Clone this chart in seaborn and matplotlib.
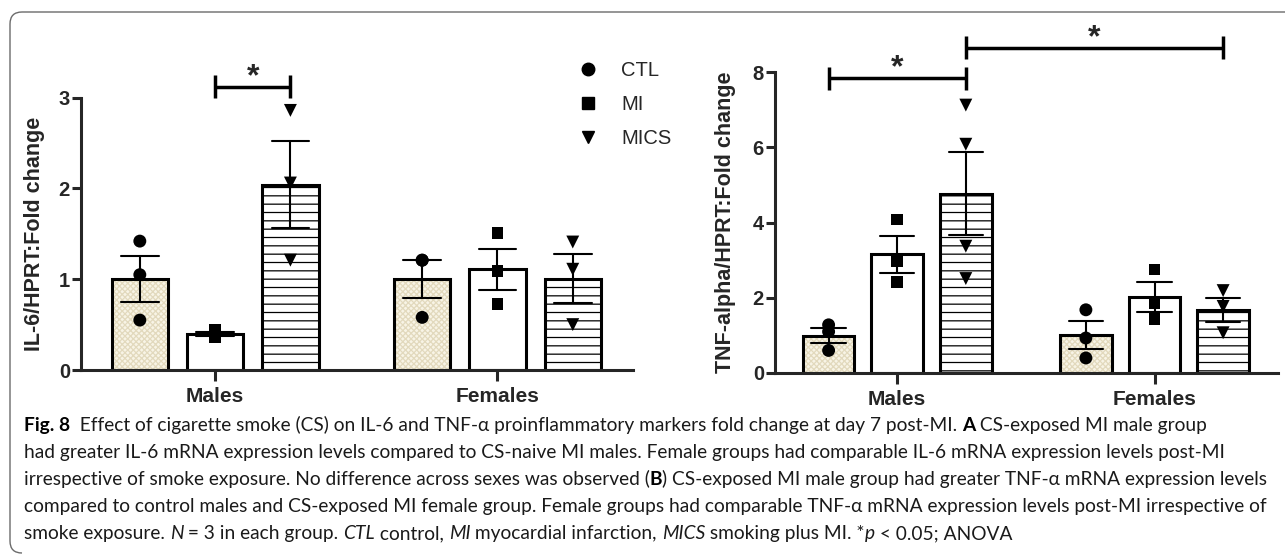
import matplotlib
matplotlib.use("Agg")
import matplotlib.pyplot as plt
import matplotlib.transforms as mtransforms
from matplotlib.lines import Line2D
from matplotlib.patches import Rectangle, PathPatch
from matplotlib.path import Path
import numpy as np
import pandas as pd
import seaborn as sns

# ---------------- data ----------------
sexes = ["Males", "Females"]
groups = ["CTL", "MI", "MICS"]

il6_males_ctl = [1.42, 1.05, 0.55]
il6_males_mi = [0.44, 0.40, 0.36]
il6_males_mics = [2.86, 2.06, 1.21]
il6_females_ctl = [1.21, 1.21, 0.58]
il6_females_mi = [1.51, 1.09, 0.73]
il6_females_mics = [1.41, 1.11, 0.50]

tnf_males_ctl = [1.28, 1.10, 0.60]
tnf_males_mi = [4.08, 2.97, 2.41]
tnf_males_mics = [7.12, 6.08, 3.37, 2.51]
tnf_females_ctl = [1.68, 0.93, 0.40]
tnf_females_mi = [2.75, 1.87, 1.44]
tnf_females_mics = [2.19, 1.77, 1.07]

il6_ylabel = "IL-6/HPRT:Fold change"
tnf_ylabel = "TNF-alpha/HPRT:Fold change"
il6_yticks = [0, 1, 2, 3]
tnf_yticks = [0, 2, 4, 6, 8]

# significance brackets: (from (sex, group), to (sex, group), height)
il6_brackets = [(("Males", "MI"), ("Males", "MICS"), 3.12)]
tnf_brackets = [(("Males", "CTL"), ("Males", "MICS"), 7.84),
                (("Males", "MICS"), ("Females", "MICS"), 8.64)]

caption_lines = [
    [("Fig. 8", "bold"),
     ("  Effect of cigarette smoke (CS) on IL-6 and TNF-\u03b1 proinflammatory markers fold change at day 7 post-MI. ", "normal"),
     ("A", "bold"), (" CS-exposed MI male group", "normal")],
    [("had greater IL-6 mRNA expression levels compared to CS-naive MI males. Female groups had comparable IL-6 mRNA expression levels post-MI", "normal")],
    [("irrespective of smoke exposure. No difference across sexes was observed (", "normal"), ("B", "bold"),
     (") CS-exposed MI male group had greater TNF-\u03b1 mRNA expression levels", "normal")],
    [("compared to control males and CS-exposed MI female group. Female groups had comparable TNF-\u03b1 mRNA expression levels post-MI irrespective of", "normal")],
    [("smoke exposure. ", "normal"), ("N", "italic"), (" = 3 in each group. ", "normal"), ("CTL", "italic"),
     (" control, ", "normal"), ("MI", "italic"), (" myocardial infarction, ", "normal"), ("MICS", "italic"),
     (" smoking plus MI. *", "normal"), ("p", "italic"), (" < 0.05; ANOVA", "normal")],
]


def long_df(d):
    rows = []
    for (sex, grp), vals in d.items():
        for v in vals:
            rows.append({"sex": sex, "group": grp, "value": v})
    return pd.DataFrame(rows)


il6_df = long_df({("Males", "CTL"): il6_males_ctl, ("Males", "MI"): il6_males_mi,
                  ("Males", "MICS"): il6_males_mics, ("Females", "CTL"): il6_females_ctl,
                  ("Females", "MI"): il6_females_mi, ("Females", "MICS"): il6_females_mics})
tnf_df = long_df({("Males", "CTL"): tnf_males_ctl, ("Males", "MI"): tnf_males_mi,
                  ("Males", "MICS"): tnf_males_mics, ("Females", "CTL"): tnf_females_ctl,
                  ("Females", "MI"): tnf_females_mi, ("Females", "MICS"): tnf_females_mics})

# ---------------- style ----------------
sns.set_style("ticks")
plt.rcParams["font.family"] = ["Liberation Sans", "DejaVu Sans"]
plt.rcParams["hatch.linewidth"] = 0.9

W, H = 1285, 554
fig = plt.figure(figsize=(W / 100, H / 100), dpi=100)


def fx(px):
    return px / W


def fy(py):
    return 1 - py / H


SPINE_LW = 2.2
ctl_face = "#f8f4e6"
ctl_hatch = "#e2d9bd"
palette = {"CTL": ctl_face, "MI": "white", "MICS": "white"}
markers = {"CTL": ("o", 9.3), "MI": ("s", 8.5), "MICS": ("v", 9.3)}


def panel(ax, df, yticks, ylabel, brackets, label_x_px):
    sns.barplot(data=df, x="sex", y="value", hue="group", order=sexes, hue_order=groups,
                palette=palette, saturation=1, errorbar="se", capsize=0.4, gap=0.25,
                err_kws={"color": "black", "linewidth": 1.5},
                edgecolor="black", linewidth=SPINE_LW, legend=False, ax=ax)
    # patterns
    for p in ax.containers[0].patches:
        p.set_hatch("xxxxxx")
        p.set_edgecolor(ctl_hatch)
        p.set_linewidth(0)
        ax.add_patch(Rectangle(p.get_xy(), p.get_width(), p.get_height(), facecolor="none",
                               edgecolor="black", linewidth=SPINE_LW, zorder=p.get_zorder() + 0.01))
    for p in ax.containers[2].patches:
        p.set_hatch("--")
    for g in groups:
        m, s = markers[g]
        sns.stripplot(data=df[df["group"] == g], x="sex", y="value", hue="group", order=sexes,
                      hue_order=groups, dodge=True, jitter=False, palette={k: "black" for k in groups},
                      marker=m, size=s, linewidth=0, legend=False, zorder=4, ax=ax)
    ax.set_xlim(-0.475, 1.48)
    ax.set_ylim(yticks[0], yticks[-1])
    ax.set_yticks(yticks)
    ax.set_xlabel("")
    ax.set_ylabel(ylabel, fontsize=15.5, fontweight="bold", va="center")
    ax.yaxis.set_label_coords(fx(label_x_px), 0.5,
                              transform=mtransforms.blended_transform_factory(fig.transFigure, ax.transAxes))
    sns.despine(ax=ax)
    for sp in ("left", "bottom"):
        ax.spines[sp].set_linewidth(SPINE_LW)
    ax.tick_params(axis="y", length=6.5, width=SPINE_LW, pad=1.5, labelsize=14.5)
    ax.tick_params(axis="x", length=8, width=SPINE_LW, pad=4, labelsize=15)
    for t in ax.get_xticklabels() + ax.get_yticklabels():
        t.set_fontweight("bold")

    # brackets
    def center(sex, grp):
        p = ax.containers[groups.index(grp)].patches[sexes.index(sex)]
        return p.get_x() + p.get_width() / 2

    ppu = ax.transData.transform((0, 1))[1] - ax.transData.transform((0, 0))[1]
    cap = 11.5 / ppu
    for a, b, h in brackets:
        x0, x1 = center(*a), center(*b)
        ax.plot([x0, x1], [h, h], color="black", lw=SPINE_LW + 0.3, clip_on=False, solid_capstyle="butt")
        for xx in (x0, x1):
            ax.plot([xx, xx], [h - cap, h + cap], color="black", lw=SPINE_LW + 0.3, clip_on=False,
                    solid_capstyle="butt")
        ax.text((x0 + x1) / 2, h + 1.5 / ppu, "*", ha="center", va="baseline", fontsize=23,
                fontweight="bold", clip_on=False)


ax1 = fig.add_axes([fx(81), fy(370), fx(633 - 81), (370 - 97.7) / H])
ax2 = fig.add_axes([fx(775), fy(373), fx(1278 - 775), (373 - 72) / H])

panel(ax1, il6_df, il6_yticks, il6_ylabel, il6_brackets, 35)
panel(ax2, tnf_df, tnf_yticks, tnf_ylabel, tnf_brackets, 725)

handles = [Line2D([], [], marker=markers[g][0], color="black", linestyle="none", markersize=9)
           for g in groups]
ax1.legend(handles, groups, loc="upper left", bbox_to_anchor=(fx(578), fy(61)),
           bbox_transform=fig.transFigure, frameon=False, fontsize=14.5, handlelength=1.0,
           handletextpad=1.15, labelspacing=0.75, borderpad=0, borderaxespad=0)

# ---------------- caption ----------------
renderer = fig.canvas.get_renderer()


def props(style, size):
    d = dict(family=["Lato", "DejaVu Sans"], fontsize=size, color="#1a1a1a")
    if style == "bold":
        d["fontweight"] = "bold"
        d["color"] = "black"
    elif style == "italic":
        d["fontstyle"] = "italic"
    return d


def twidth(s, style, size):
    t1 = fig.text(0, 0, "|" + s + "|", **props(style, size))
    w1 = t1.get_window_extent(renderer).width
    t1.remove()
    t2 = fig.text(0, 0, "||", **props(style, size))
    w2 = t2.get_window_extent(renderer).width
    t2.remove()
    return w1 - w2


x_start = 24
fit_targets = {2: 1268, 3: 1277}
nat = sum(sum(twidth(s, st, 10) for s, st in caption_lines[i]) for i in fit_targets)
tgt = sum(v - x_start for v in fit_targets.values())
cap_size = 10 * tgt / nat

baselines = [431, 458, 485, 512, 539]
for line, yb in zip(caption_lines, baselines):
    x = x_start
    for s, st in line:
        fig.text(fx(x), fy(yb), s, ha="left", va="baseline", **props(st, cap_size))
        x += twidth(s, st, cap_size)

# ---------------- frame ----------------
verts = [(W, 12), (22, 12), (10, 12), (10, 24), (10, 541), (10, 553), (22, 553)]
codes = [Path.MOVETO, Path.LINETO, Path.CURVE3, Path.CURVE3, Path.LINETO, Path.CURVE3, Path.CURVE3]
frame = PathPatch(Path([(fx(a), fy(b)) for a, b in verts], codes), transform=fig.transFigure,
                  facecolor="none", edgecolor="#6b6b6b", linewidth=1.0)
fig.patches.append(frame)

fig.savefig("out.png", dpi=100, facecolor="white")
